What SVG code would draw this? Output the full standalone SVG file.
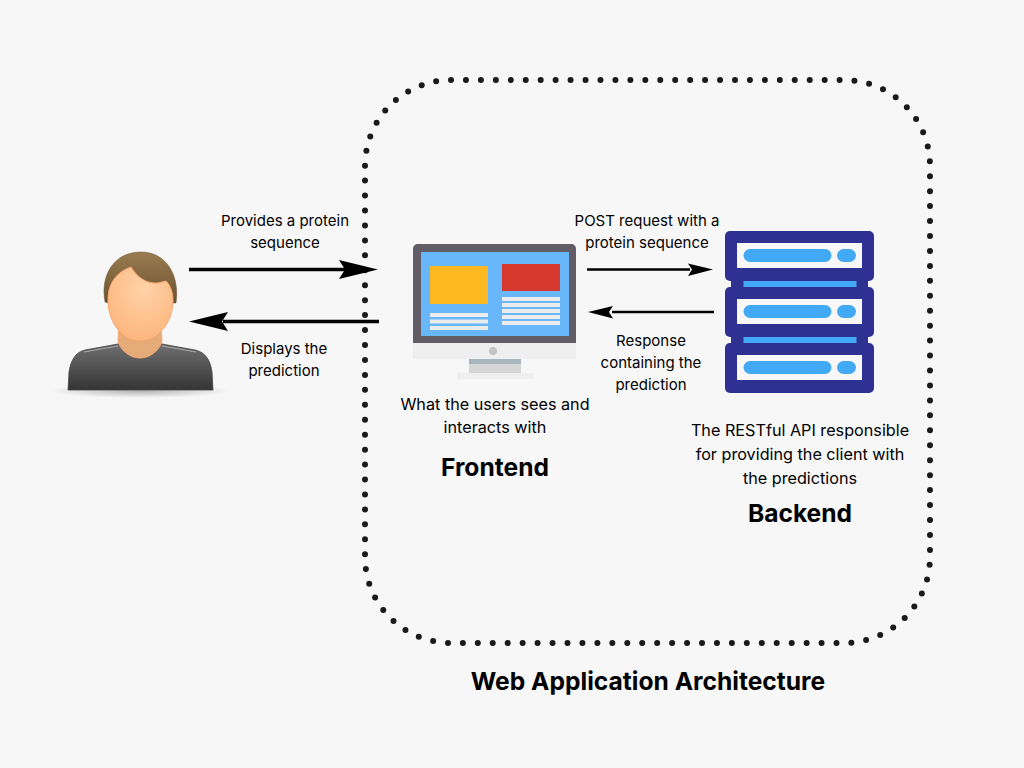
<svg xmlns="http://www.w3.org/2000/svg" width="1024" height="768" viewBox="0 0 1024 768">
<style>
text{font-family:Inter,"Open Sans","Liberation Sans",sans-serif;fill:#000;text-anchor:middle}
.l{font-size:15px}
.d{font-size:16.200px}
.t{font-size:24.600px;font-weight:700}
.c{fill:none;stroke:#000;stroke-linecap:butt}
</style>
<defs>
<linearGradient id="hair" x1="0" y1="0" x2="0" y2="1"><stop offset="0" stop-color="#9a7c50"/><stop offset="1" stop-color="#6b5230"/></linearGradient>
<radialGradient id="face" cx="0.55" cy="0.3" r="0.7"><stop offset="0" stop-color="#ffd3a8"/><stop offset="1" stop-color="#fdb67e"/></radialGradient>
<linearGradient id="shirt" x1="0" y1="0" x2="0" y2="1"><stop offset="0" stop-color="#6f6f6f"/><stop offset="1" stop-color="#353535"/></linearGradient>
<radialGradient id="shadow"><stop offset="0" stop-color="#999" stop-opacity=".7"/><stop offset="1" stop-color="#999" stop-opacity="0"/></radialGradient>
<g id="srv"><rect x="725" y="0" width="149" height="50" rx="5" fill="#2e3192"/><rect x="737" y="12" width="125" height="25" fill="#f7f7f7"/><rect x="743.500" y="18" width="88" height="13" rx="6.500" fill="#42a9f6"/><rect x="837" y="18" width="19" height="13" rx="6.500" fill="#42a9f6"/></g>
</defs>
<rect id="background" width="1024" height="768" fill="#f7f7f7"/>
<rect id="boundary" x="365" y="80" width="565" height="563" rx="86" fill="none" stroke="#1a1a1a" stroke-width="6" stroke-linecap="round" pathLength="141" stroke-dasharray="0 1"/>
<g id="user">
<ellipse cx="140" cy="391" rx="90" ry="7" fill="url(#shadow)"/>
<path d="M68 390L69 372C71 358 77 352 85 350L118 344H162L195 350C204 352 210 358 212 372L213 390Z" fill="url(#shirt)" stroke="#444" stroke-width=".8"/>
<path d="M84 352L118 346M162 346L196 352" fill="none" stroke="#a8a8a8" stroke-width="1"/>
<path d="M118 342C122 352 131 358 140 358C149 358 158 352 162 342L161 325H119Z" fill="#e5ab78" stroke="#f8a870"/>
<path d="M105 302C100 275 114 252 141 252C166 252 180 275 176 303L172 303H108Z" fill="url(#hair)" stroke="#6b5230" stroke-width=".5"/>
<path d="M108 300C108 286 114 273 131 267C137 277 146 284 158 283L166 281C171 286 173 293 173 301C173 322 158 341 140 341C122 341 108 322 108 300Z" fill="url(#face)" stroke="#f8a870"/>
</g>
<g id="frontend">
<path d="M413 343V249C413 246 415 244 418 244H571C574 244 576 246 576 249V343Z" fill="#625c66"/>
<rect x="421" y="252" width="148" height="84" fill="#68b7fa"/>
<rect x="430" y="266" width="58" height="38" fill="#fdb91f"/>
<rect x="502" y="264" width="58" height="27" fill="#d6382e"/>
<g fill="#ececec"><rect x="430" y="313" width="58" height="4"/><rect x="430" y="319.500" width="58" height="4"/><rect x="430" y="326" width="58" height="4"/><rect x="502" y="297" width="58" height="4"/><rect x="502" y="303" width="58" height="4"/><rect x="502" y="309" width="58" height="4"/><rect x="502" y="315" width="58" height="4"/><rect x="502" y="321" width="58" height="4"/></g>
<rect x="413" y="343" width="163" height="16" fill="#efefef"/>
<circle cx="493" cy="351" r="4" fill="#c4c4c4"/>
<rect x="469" y="359" width="52" height="5" fill="#aab6bd"/>
<rect x="469" y="364" width="52" height="9" fill="#d6d6d6"/>
<rect x="457" y="373" width="76" height="6" fill="#efefef"/>
</g>
<g id="backend">
<rect x="731" y="278" width="137" height="12" fill="#2e3192"/><rect x="743.500" y="281" width="113" height="6" fill="#42a9f6"/>
<rect x="731" y="334" width="137" height="12" fill="#2e3192"/><rect x="743.500" y="337" width="113" height="6" fill="#42a9f6"/>
<use href="#srv" y="231"/><use href="#srv" y="287"/><use href="#srv" y="343"/>
</g>
<g id="connectors">
<g class="c">
<path d="M189 269.500H345" stroke-width="3.500"/>
<path d="M379 321.500H223" stroke-width="3.500"/>
<path d="M587 269.500H690" stroke-width="2.500"/>
<path d="M714 312H612" stroke-width="2.500"/>
</g>
<path d="M378 269.500L339 260L345 269.500L339 279Z"/>
<path d="M189 321.500L228 312L222 321.500L228 331Z"/>
<path d="M713 269.500L688 263.500L692 269.500L688 276Z"/>
<path d="M588 312L613 306L609 312L613 318.500Z"/>
</g>
<g id="labels" class="l">
<text x="285" y="226">Provides a protein</text><text x="285" y="248">sequence</text>
<text x="284" y="354">Displays the</text><text x="284" y="376">prediction</text>
<text x="647" y="226">POST request with a</text><text x="647" y="248">protein sequence</text>
<text x="651" y="346">Response</text><text x="651" y="368">containing the</text><text x="651" y="390">prediction</text>
</g>
<g id="descriptions" class="d">
<text x="495" y="410">What the users sees and</text><text x="495" y="433">interacts with</text>
<text x="800" y="436">The RESTful API responsible</text><text x="800" y="460">for providing the client with</text><text x="800" y="484">the predictions</text>
</g>
<text class="t" x="495" y="476">Frontend</text>
<text class="t" x="800" y="522">Backend</text>
<text class="t" x="648" y="690">Web Application Architecture</text>
</svg>
